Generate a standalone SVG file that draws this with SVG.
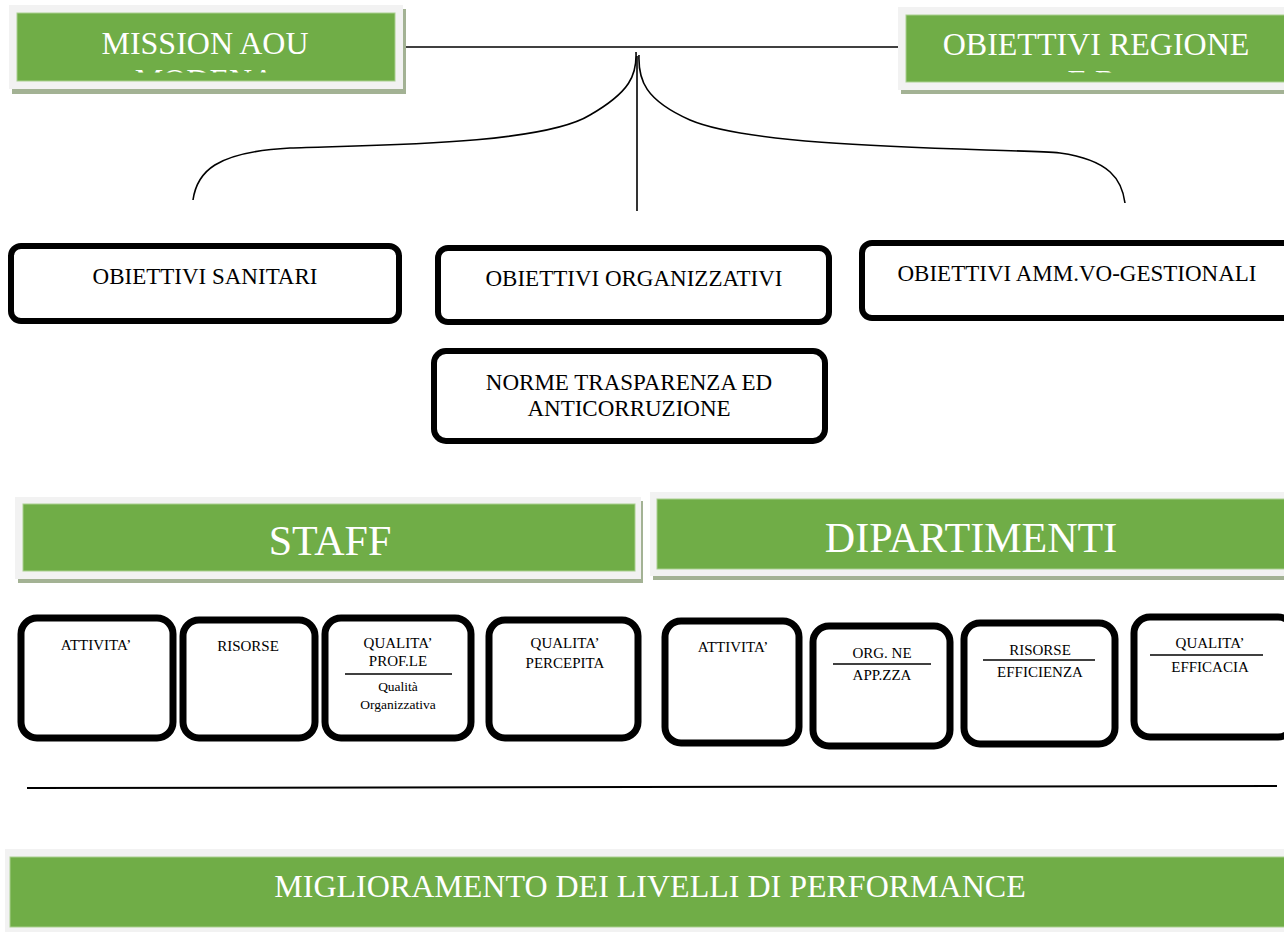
<svg xmlns="http://www.w3.org/2000/svg" width="1284" height="932" viewBox="0 0 1284 932">
<style>
.frame{fill:#f2f2f2}
.shadow{fill:#a3b294}
.green{fill:#70ad47;stroke:#a9cf8f;stroke-width:1}
.ht{font-family:"Liberation Serif","Times New Roman",serif;fill:#ffffff;text-anchor:middle}
.box{fill:#ffffff;stroke:#000000;stroke-width:6}
.sbox{fill:#ffffff;stroke:#000000;stroke-width:7}
.t{font-family:"Liberation Serif","Times New Roman",serif;fill:#000000;text-anchor:middle}
.conn{fill:none;stroke:#000000;stroke-width:1.6}
.div{stroke:#000000;stroke-width:1.6}
</style>
<defs>
<clipPath id="clipM"><rect x="17" y="13" width="378" height="59.5"/></clipPath>
<clipPath id="clipR"><rect x="906" y="15" width="378" height="57.5"/></clipPath>
</defs>
<rect width="1284" height="932" fill="#ffffff"/>

<g id="connectors">
<line class="conn" x1="403" y1="47" x2="904" y2="47"/>
<path class="conn" d="M193,200 C197,172 215,152 290,148 C360,145 540,146 590,115 C630,92 637,75 636,52"/>
<path class="conn" d="M639,55 C638,80 645,100 690,120 C760,150 1000,148 1060,153 C1110,160 1122,180 1125,203"/>
<line class="conn" x1="637" y1="56" x2="637" y2="211"/>
<line x1="27" y1="788" x2="1277" y2="786" stroke="#000" stroke-width="2"/>
</g>

<g id="mission">
<rect class="shadow" x="12" y="9" width="394" height="85"/>
<rect class="frame" x="9" y="5" width="394" height="84"/>
<rect class="green" x="17" y="13" width="378" height="68"/>
<g clip-path="url(#clipM)">
<text class="ht" x="205" y="54" font-size="32">MISSION AOU</text>
<text class="ht" x="205" y="91" font-size="32">MODENA</text>
</g>
</g>

<g id="regione">
<rect class="shadow" x="901" y="10" width="383" height="84"/>
<rect class="frame" x="898" y="7" width="386" height="83"/>
<rect class="green" x="906" y="15" width="379" height="67"/>
<g clip-path="url(#clipR)">
<text class="ht" x="1096" y="55" font-size="32">OBIETTIVI REGIONE</text>
<text class="ht" x="1096" y="92" font-size="32">E.R.</text>
</g>
</g>

<g id="sanitari">
<rect class="box" x="11" y="246" width="388" height="75" rx="10"/>
<text class="t" x="205" y="284" font-size="23">OBIETTIVI SANITARI</text>
</g>

<g id="organizzativi">
<rect class="box" x="438" y="248" width="391" height="74" rx="10"/>
<text class="t" x="634" y="286" font-size="23">OBIETTIVI ORGANIZZATIVI</text>
</g>

<g id="gestionali">
<rect class="box" x="862" y="243" width="440" height="75" rx="10"/>
<text class="t" x="1077" y="281" font-size="23">OBIETTIVI AMM.VO-GESTIONALI</text>
</g>

<g id="norme">
<rect class="box" x="434" y="351" width="391" height="90" rx="12"/>
<text class="t" x="629" y="390" font-size="23">NORME TRASPARENZA ED</text>
<text class="t" x="629" y="416" font-size="23">ANTICORRUZIONE</text>
</g>

<g id="staff">
<rect class="shadow" x="18" y="501" width="625" height="82"/>
<rect class="frame" x="15" y="497" width="626" height="82"/>
<rect class="green" x="23" y="504" width="612" height="67"/>
<text class="ht" x="330" y="555" font-size="42">STAFF</text>
</g>

<g id="dipartimenti">
<rect class="shadow" x="653" y="496" width="631" height="84"/>
<rect class="frame" x="650" y="492" width="634" height="84"/>
<rect class="green" x="657" y="499" width="628" height="70"/>
<text class="ht" x="971" y="552" font-size="42">DIPARTIMENTI</text>
</g>

<g id="s-attivita">
<rect class="sbox" x="21" y="618" width="152" height="120" rx="16"/>
<text class="t" x="96" y="650" font-size="15">ATTIVITA’</text>
</g>

<g id="s-risorse">
<rect class="sbox" x="183" y="620" width="132" height="118" rx="16"/>
<text class="t" x="248" y="651" font-size="15">RISORSE</text>
</g>

<g id="s-qualita-prof">
<rect class="sbox" x="325" y="618" width="146" height="120" rx="16"/>
<text class="t" x="398" y="648" font-size="15">QUALITA’</text>
<text class="t" x="398" y="666" font-size="15">PROF.LE</text>
<line class="div" x1="345" y1="674" x2="452" y2="674"/>
<text class="t" x="398" y="691" font-size="13.5">Qualità</text>
<text class="t" x="398" y="709" font-size="13.5">Organizzativa</text>
</g>

<g id="s-qualita-perc">
<rect class="sbox" x="489" y="620" width="149" height="118" rx="16"/>
<text class="t" x="565" y="648" font-size="15">QUALITA’</text>
<text class="t" x="565" y="668" font-size="15">PERCEPITA</text>
</g>

<g id="d-attivita">
<rect class="sbox" x="665" y="621" width="134" height="122" rx="16"/>
<text class="t" x="733" y="652" font-size="15">ATTIVITA’</text>
</g>

<g id="d-org">
<rect class="sbox" x="813" y="626" width="137" height="120" rx="16"/>
<text class="t" x="882" y="658" font-size="15">ORG. NE</text>
<line class="div" x1="833" y1="664" x2="931" y2="664"/>
<text class="t" x="882" y="680" font-size="15">APP.ZZA</text>
</g>

<g id="d-risorse">
<rect class="sbox" x="964" y="623" width="151" height="121" rx="16"/>
<text class="t" x="1040" y="655" font-size="15">RISORSE</text>
<line class="div" x1="983" y1="660" x2="1095" y2="660"/>
<text class="t" x="1040" y="677" font-size="15">EFFICIENZA</text>
</g>

<g id="d-qualita">
<rect class="sbox" x="1134" y="617" width="160" height="120" rx="16"/>
<text class="t" x="1210" y="648" font-size="15">QUALITA’</text>
<line class="div" x1="1150" y1="655" x2="1263" y2="655"/>
<text class="t" x="1210" y="672" font-size="15">EFFICACIA</text>
</g>

<g id="miglioramento">
<rect class="frame" x="5" y="849" width="1279" height="83"/>
<rect class="green" x="10" y="857" width="1275" height="70"/>
<text class="ht" x="650" y="897" font-size="32">MIGLIORAMENTO DEI LIVELLI DI PERFORMANCE</text>
</g>
</svg>
